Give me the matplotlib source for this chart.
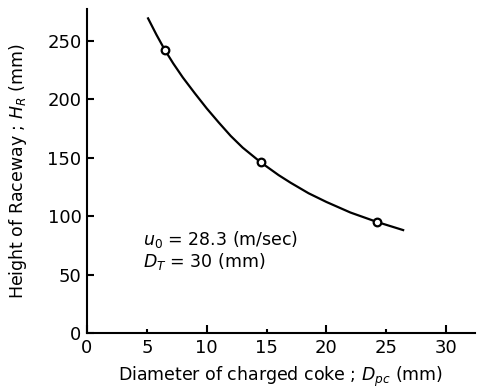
import numpy as np
import matplotlib.pyplot as plt

# measured points
d_pc = [6.5, 14.5, 24.2]
h_r = [242, 146, 95]

# smooth curve
curve_d = [5.1, 5.8, 6.5, 7.2, 8.0, 9.0, 10.0, 11.0, 12.0, 13.0, 14.5,
           16.0, 17.0, 18.5, 20.0, 22.0, 24.2, 26.4]
curve_h = [269, 255, 242, 230.5, 218.5, 205, 192, 180, 168.5, 158.5, 146,
           135, 128.5, 119.5, 112, 103, 95, 88]

fig = plt.figure(figsize=(4.78, 3.92), dpi=100)
ax = fig.add_axes([0.182, 0.1505, 0.8117, 0.8265])

ax.plot(curve_d, curve_h, color='black', linewidth=1.6, zorder=2)
ax.plot(d_pc, h_r, linestyle='none', marker='o', markersize=5.5,
        markerfacecolor='white', markeredgecolor='black', markeredgewidth=1.6, zorder=3)

ax.set_xlim(0, 32.4)
ax.set_ylim(0, 277)
ax.spines['top'].set_visible(False)
ax.spines['right'].set_visible(False)
ax.spines['left'].set_linewidth(1.5)
ax.spines['bottom'].set_linewidth(1.5)

ax.set_xticks([0, 10, 20, 30])
ax.set_xticks([5, 15, 25], minor=True)
ax.set_xticklabels(['0', '10', '20', '30'])
ax.set_xticklabels(['5', '15', '25'], minor=True)
ax.set_yticks([0, 50, 100, 150, 200, 250])
ax.tick_params(axis='both', which='both', direction='in', labelsize=13, width=1.5)
ax.tick_params(axis='x', which='major', length=6, pad=4)
ax.tick_params(axis='x', which='minor', length=3, pad=4)
ax.tick_params(axis='y', which='major', length=5, pad=4)

ax.set_xlabel(r'Diameter of charged coke ; $D_{pc}$ (mm)', fontsize=12.5, labelpad=6)
ax.set_ylabel(r'Height of Raceway ; $H_R$ (mm)', fontsize=12.5, labelpad=13)

ax.text(4.7, 80, r'$u_0$ = 28.3 (m/sec)', fontsize=12.5, va='center')
ax.text(4.7, 61, r'$D_T$ = 30 (mm)', fontsize=12.5, va='center')

fig.savefig('out.png', dpi=100)
